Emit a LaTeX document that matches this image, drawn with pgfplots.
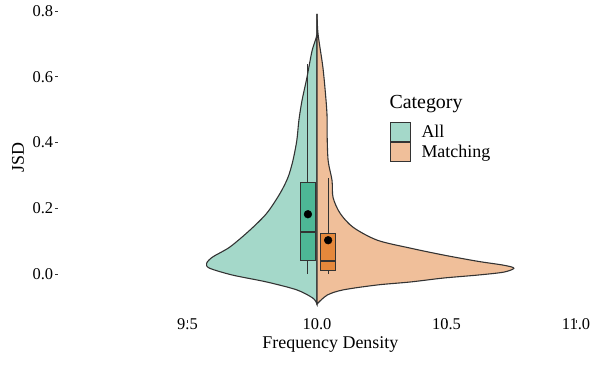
\documentclass[border=0pt]{standalone}
\usepackage{fontspec}
\setmainfont{Liberation Serif}
\usepackage{pgfplots}
\pgfplotsset{compat=1.18}
\usepgfplotslibrary{statistics}
\definecolor{allv}{HTML}{A4D8C9}
\definecolor{matv}{HTML}{F0BF9A}
\definecolor{allb}{HTML}{4DB796}
\definecolor{matb}{HTML}{E5883B}
\definecolor{edge}{HTML}{333333}
\begin{document}
\begin{tikzpicture}
\useasboundingbox (0,0) rectangle (595bp,367bp);
\begin{axis}[
  at={(58bp,60bp)}, anchor=south west,
  x=259bp, y=329bp,
  xmin=9.0, xmax=11.05, ymin=-0.1, ymax=0.83,
  axis line style={draw=none},
  tick align=outside, xtick pos=left, ytick pos=left,
  major tick length=2.7bp,
  tick style={color=edge, line width=0.5pt},
  every major x tick/.append style={yshift=-13bp},
  xtick={9.5,10,10.5,11}, ytick={0,0.2,0.4,0.6,0.8},
  /pgf/number format/assume math mode=true,
  ticklabel style={font=\fontsize{16.5}{19}\selectfont, /pgf/number format/fixed, /pgf/number format/fixed zerofill, /pgf/number format/precision=1},
  xticklabel style={anchor=north, inner sep=0pt, yshift=-9bp},
  yticklabel style={anchor=east, inner xsep=2bp},
  xlabel={Frequency Density},
  xlabel style={at={(axis description cs:0.513,0)}, anchor=base, inner sep=0pt, yshift=-41.5bp, font=\fontsize{18}{22}\selectfont},
  ylabel={JSD},
  ylabel style={at={(axis description cs:-0.0755,0.487)}, anchor=center, font=\fontsize{18}{22}\selectfont},
  boxplot/draw direction=y,
  boxplot/whisker extend=0,
  boxplot/every median/.style={line width=2.2pt},
  boxplot/every whisker/.style={line width=0.9pt},
  legend image code/.code={\draw[#1, draw=edge, line width=1pt] (0bp,-9.65bp) rectangle (20bp,9.65bp);},
  legend style={draw=none, fill=none, at={(0.624,0.6056)}, anchor=north west, inner sep=0pt, row sep=0pt, font=\fontsize{18}{22}\selectfont, /tikz/every odd column/.append style={column sep=9bp}},
  legend cell align=left,
]
% violins
\addplot[forget plot, fill=allv, draw=edge, line width=1.1pt, smooth, tension=0.5] coordinates {
(10.000,0.791) (10.000,0.730) (9.981,0.679) (9.961,0.597) (9.942,0.527) (9.930,0.467)
(9.922,0.406) (9.907,0.345) (9.888,0.294) (9.857,0.245) (9.806,0.185) (9.740,0.133)
(9.663,0.082) (9.597,0.052) (9.574,0.033) (9.585,0.018) (9.674,-0.003) (9.806,-0.024)
(9.922,-0.048) (9.984,-0.073) (10.000,-0.091)
} -- cycle;
\addplot[forget plot, fill=matv, draw=edge, line width=1.1pt, smooth, tension=0.5] coordinates {
(10.000,0.791) (10.004,0.730) (10.023,0.627) (10.035,0.527) (10.039,0.476) (10.039,0.427)
(10.043,0.345) (10.058,0.285) (10.062,0.233) (10.089,0.185) (10.140,0.142) (10.233,0.103)
(10.360,0.079) (10.488,0.058) (10.620,0.039) (10.721,0.027) (10.760,0.018) (10.721,0.006)
(10.620,-0.003) (10.488,-0.012) (10.360,-0.024) (10.233,-0.033) (10.101,-0.048) (10.039,-0.064)
(10.000,-0.091)
} -- cycle;
% boxes
\addplot[forget plot, draw=edge, fill=allb, line width=1.1pt,
  boxplot prepared={draw position=9.965, box extend=0.057, lower whisker=0.0, lower quartile=0.042, median=0.127, upper quartile=0.279, upper whisker=0.639}] coordinates {};
\addplot[forget plot, draw=edge, fill=matb, line width=1.1pt,
  boxplot prepared={draw position=10.043, box extend=0.057, lower whisker=0.0, lower quartile=0.012, median=0.040, upper quartile=0.124, upper whisker=0.291}] coordinates {};
% means
\addplot[forget plot, only marks, mark=*, mark size=3.9bp, black] coordinates {(9.965,0.182) (10.043,0.103)};
\addlegendimage{fill=allv}
\addlegendentry{All}
\addlegendimage{fill=matv}
\addlegendentry{Matching}
\end{axis}
\node[anchor=base west, inner sep=0pt, font=\fontsize{20}{24}\selectfont] at (389.3bp,258.7bp) {Category};
\end{tikzpicture}
\end{document}
